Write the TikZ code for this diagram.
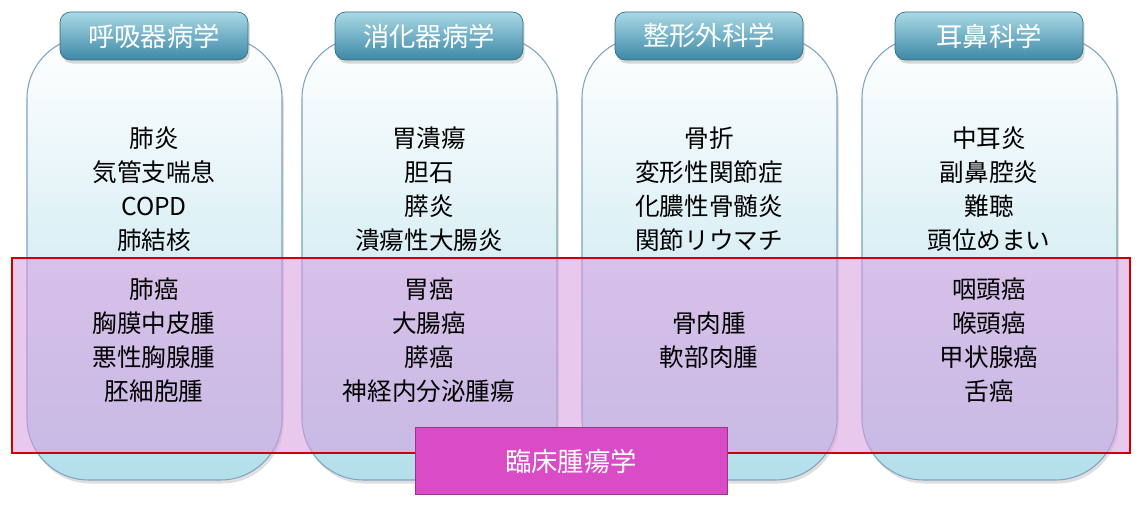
\documentclass[tikz,border=0pt]{standalone}
\usepackage{fontspec}
\setmainfont{Noto Sans CJK JP}
\usetikzlibrary{shadows}
\definecolor{headtop}{HTML}{A9D9E6}
\definecolor{headbot}{HTML}{3E88A6}
\definecolor{colbot}{HTML}{B3DFEA}
\definecolor{colline}{HTML}{7FA3C0}
\definecolor{bandfill}{HTML}{D79BE0}
\definecolor{clinic}{HTML}{D94CC6}
\tikzset{
  column/.style={draw=colline, rounded corners=35, top color=white, bottom color=colbot, line width=0.6pt},
  header/.style={draw=headbot!80!black, rounded corners=6, top color=headtop, bottom color=headbot,
    text=white, font=\fontsize{15}{18}\selectfont, minimum width=3.76cm, minimum height=0.96cm,
    drop shadow={opacity=0.3, shadow xshift=1pt, shadow yshift=-2pt}},
  items/.style={align=center, font=\fontsize{14}{19.4}\selectfont}
}
\begin{document}
\begin{tikzpicture}[x=0.02cm, y=-0.02cm]
\useasboundingbox (0,0) rectangle (1144,523);
% columns
\foreach \l/\r in {27/282, 302/557, 582/837, 862/1117}
  \draw[column, drop shadow={opacity=0.25, shadow xshift=1pt, shadow yshift=-2pt}] (\l,37) rectangle (\r,480);
% band
\fill[bandfill, opacity=0.55] (12,258) rectangle (1130,453);
\draw[red!80!black, line width=0.6pt] (12,258) rectangle (1130,453);
% headers
\node[header] (resp) at (154,36) {呼吸器病学};
\node[header] (gast) at (429,36) {消化器病学};
\node[header] (orth) at (709,36) {整形外科学};
\node[header] (ent)  at (989,36) {耳鼻科学};
% diseases
\node[items] (respA) at (154,189) {肺炎\\気管支喘息\\COPD\\肺結核};
\node[items] (gastA) at (429,189) {胃潰瘍\\胆石\\膵炎\\潰瘍性大腸炎};
\node[items] (orthA) at (709,189) {骨折\\変形性関節症\\化膿性骨髄炎\\関節リウマチ};
\node[items] (entA)  at (989,189) {中耳炎\\副鼻腔炎\\難聴\\頭位めまい};
\node[items] (respB) at (154,340) {肺癌\\胸膜中皮腫\\悪性胸腺腫\\胚細胞腫};
\node[items] (gastB) at (429,340) {胃癌\\大腸癌\\膵癌\\神経内分泌腫瘍};
\node[items] (orthB) at (709,340) {骨肉腫\\軟部肉腫};
\node[items] (entB)  at (989,340) {咽頭癌\\喉頭癌\\甲状腺癌\\舌癌};
% clinical oncology
\node[draw=clinic!70!black, fill=clinic, text=white, minimum width=6.24cm, minimum height=1.34cm,
  font=\fontsize{15}{18}\selectfont] (onco) at (571,461) {臨床腫瘍学};
\end{tikzpicture}
\end{document}
